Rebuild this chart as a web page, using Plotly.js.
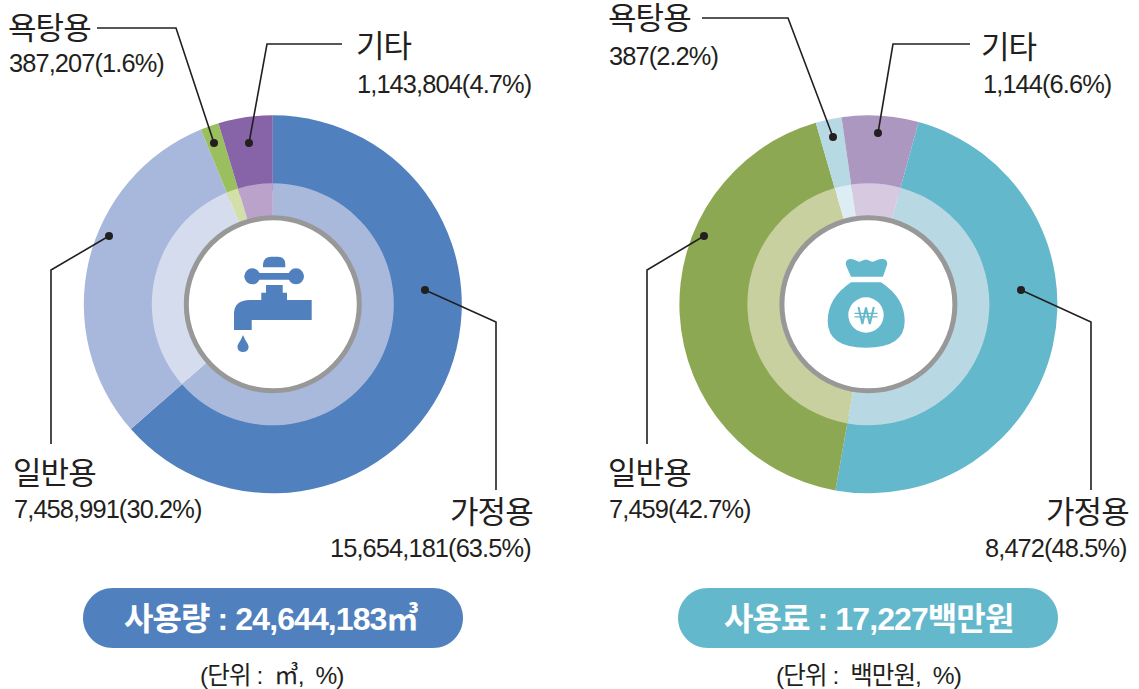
<!DOCTYPE html>
<html><head><meta charset="utf-8">
<script src="https://cdn.plot.ly/plotly-3.0.1.min.js"></script>
<style>
html,body{margin:0;padding:0;background:#fff;overflow:hidden}
#c{width:1139px;height:689px}
.annotation-text{letter-spacing:-0.9px}
</style></head><body><div id="c"></div>
<script>
const categories = ['가정용','일반용','욕탕용','기타'];
const volumeValues = [15654181,7458991,387207,1143804];
const volumePct = ['63.5','30.2','1.6','4.7'];
const chargeValues = [8472,7459,387,1144];
const chargePct = ['48.5','42.7','2.2','6.6'];
const volumeColors = ['#5081BE','#A8B8DD','#9ABF5E','#8763A8'];
const volumeInner = ['#A9B9DC','#D5DCEE','#D3DFA9','#BBA2CB'];
const chargeColors = ['#64B8CC','#8DA852','#B7D9E4','#AC97C0'];
const chargeInner = ['#B8D9E4','#C8D09F','#DCEDF3','#D6C9E0'];
const volumeTotal = '사용량 : 24,644,183㎥';
const chargeTotal = '사용료 : 17,227백만원';
const volumeUnit = '(단위\u00a0:\u00a0\u00a0㎥,\u00a0\u00a0%)';
const chargeUnit = '(단위\u00a0:\u00a0\u00a0백만원,\u00a0\u00a0%)';

const W=1139,H=689,TIGHT='"Liberation Sans","Noto Sans CJK KR",sans-serif',INK='#231F20';
const fmt=v=>v.toLocaleString('en-US');
function pie(cx,cy,r,hole,vals,cols,rot){
  return {type:'pie',values:vals,labels:categories,sort:false,direction:'clockwise',rotation:rot,hole:hole,
    textinfo:'none',hoverinfo:'label+value',showlegend:false,
    marker:{colors:cols,line:{width:0}},
    domain:{x:[(cx-r)/W,(cx+r)/W],y:[1-(cy+r)/H,1-(cy-r)/H]}};
}
const LC=[272.8,304.3],RC=[868.4,304.3];
const data=[
 pie(LC[0],LC[1],189,0.6,volumeValues,volumeColors,0),
 pie(LC[0],LC[1],121,0.72,volumeValues,volumeInner,0),
 pie(RC[0],RC[1],189,0.6,chargeValues,chargeColors,15.4),
 pie(RC[0],RC[1],121,0.72,chargeValues,chargeInner,15.4)
];
const shapes=[];
function circ(x,y,r,fill,lw,lc){shapes.push({type:'circle',xref:'x',yref:'y',x0:x-r,x1:x+r,y0:y-r,y1:y+r,fillcolor:fill,line:{width:lw||0,color:lc||fill},layer:'above'});}
function path(d,fill,lw,lc){shapes.push({type:'path',xref:'x',yref:'y',path:d,fillcolor:fill||'rgba(0,0,0,0)',line:{width:lw||0,color:lc||'rgba(0,0,0,0)'},layer:'above'});}
function lead(pts,dot){
  path('M'+pts.map(p=>p.join(' ')).join(' L'),null,1.6,'#231F20');
  circ(dot[0],dot[1],4,'#231F20');
}
[LC,RC].forEach(c=>circ(c[0],c[1],86.5,'#fff',5,'#989898'));
// leaders
lead([[97,28],[176,28],[214,143]],[214,143]);
lead([[342,44],[267,44],[249,143]],[249,143]);
lead([[109,236],[51,270],[51,444]],[109,236]);
lead([[425,290],[496,322],[496,490]],[425,290]);
lead([[702,18],[788,18],[833,137]],[833,137]);
lead([[970,44],[893,44],[878,133]],[878,133]);
lead([[704,236],[647,270],[647,444]],[704,236]);
lead([[1021,290],[1091,322],[1091,490]],[1021,290]);
// pills
function pill(x0,x1,y0,y1,c){const r=(y1-y0)/2,k=r*0.5523;
  path(`M${x0+r} ${y0} L${x1-r} ${y0} C${x1-r+k} ${y0} ${x1} ${y0+r-k} ${x1} ${y0+r} C${x1} ${y0+r+k} ${x1-r+k} ${y1} ${x1-r} ${y1} L${x0+r} ${y1} C${x0+r-k} ${y1} ${x0} ${y0+r+k} ${x0} ${y0+r} C${x0} ${y0+r-k} ${x0+r-k} ${y0} ${x0+r} ${y0} Z`,c);}
pill(83,463,588,648,'#5081BE');
pill(678,1058,588,648,'#64B8CC');
// faucet icon
const FB='#5081BE';
path('M263 267.3 L263 264 Q264 256.7 271 256.7 L278 256.7 Q285.3 257 285.3 264 L285.3 267.3 Z',FB);
circ(252.3,276.3,8,FB);circ(296,276.3,8,FB);
path('M252 273 L296 273 L296 279.7 L252 279.7 Z',FB);
path('M266 285 L282.7 285 L282.7 292.7 L287 292.7 L287 300 L311.7 300 L311.7 320 L251.7 320 L251.7 330 L234 330 L234 314 Q234 300 250 300 L261.3 300 L261.3 292.7 L266 292.7 Z',FB);
path('M243 335 Q245 340 247.5 343.5 Q249 346 248.5 348 Q247.5 352 243 352 Q238.5 352 237.6 348 Q237 346 238.5 343.5 Q241 340 243 335 Z',FB);
// bag icon
const BG='#64B8CC';
path('M851 276.7 L846.5 266.5 Q844 260 850 259 Q853 258.5 856 260.5 Q859 262.5 861.5 261 Q866 258 870 261 Q873 262.5 876 260.5 Q879 258.5 883 259 Q889 260 886.5 266.5 L883 276.7 Z',BG);
path('M851 282.3 L881 282.3 Q904.7 298 904.7 321 Q904.7 347.7 866 347.7 Q827.7 347.7 827.7 321 Q827.7 298 851 282.3 Z',BG);
circ(866,315,17.7,'#fff');
path('M858.5 307 L862.4 324 L866 307.5 L869.8 324 L873.8 307',null,2,BG);
path('M854.5 313.4 L877.5 313.4 M854.5 316.8 L877.5 316.8',null,1.3,BG);

const ann=[];
function t(text,x,y,anchor,size,color,weight){ann.push({text:text,x:x,y:y,xref:'x',yref:'y',xanchor:anchor,yanchor:'middle',showarrow:false,
  font:{family:TIGHT,size:size,color:color||INK,weight:weight||400}});}
const vl=i=>fmt(volumeValues[i])+'('+volumePct[i]+'%)', cl=i=>fmt(chargeValues[i])+'('+chargePct[i]+'%)';
const CS=31,NS=25.4;
t(categories[2],6,28,'left',CS); t(vl(2),7,63,'left',NS);
t(categories[3],354,46,'left',CS); t(vl(3),355,84,'left',NS);
t(categories[1],11,473,'left',CS); t(vl(1),12,509,'left',NS);
t(categories[0],535,512,'right',CS); t(vl(0),533,548,'right',NS);
t(categories[2],606,18,'left',CS); t(cl(2),607,56,'left',NS);
t(categories[3],979,47,'left',CS); t(cl(3),981,84,'left',NS);
t(categories[1],606,473,'left',CS); t(cl(1),607,509,'left',NS);
t(categories[0],1131,512,'right',CS); t(cl(0),1129,548,'right',NS);
t(volumeTotal,271,619,'center',32,'#fff',700);
t(chargeTotal,868,619,'center',32,'#fff',700);
t(volumeUnit,272,675,'center',24.5);
t(chargeUnit,868,675,'center',24.5);

Plotly.newPlot('c',data,{width:W,height:H,margin:{l:0,r:0,t:0,b:0,pad:0},paper_bgcolor:'#fff',plot_bgcolor:'#fff',
 xaxis:{range:[0,W],visible:false,fixedrange:true},yaxis:{range:[H,0],visible:false,fixedrange:true},
 shapes:shapes,annotations:ann,showlegend:false},{displayModeBar:false,staticPlot:true});
</script></body></html>
